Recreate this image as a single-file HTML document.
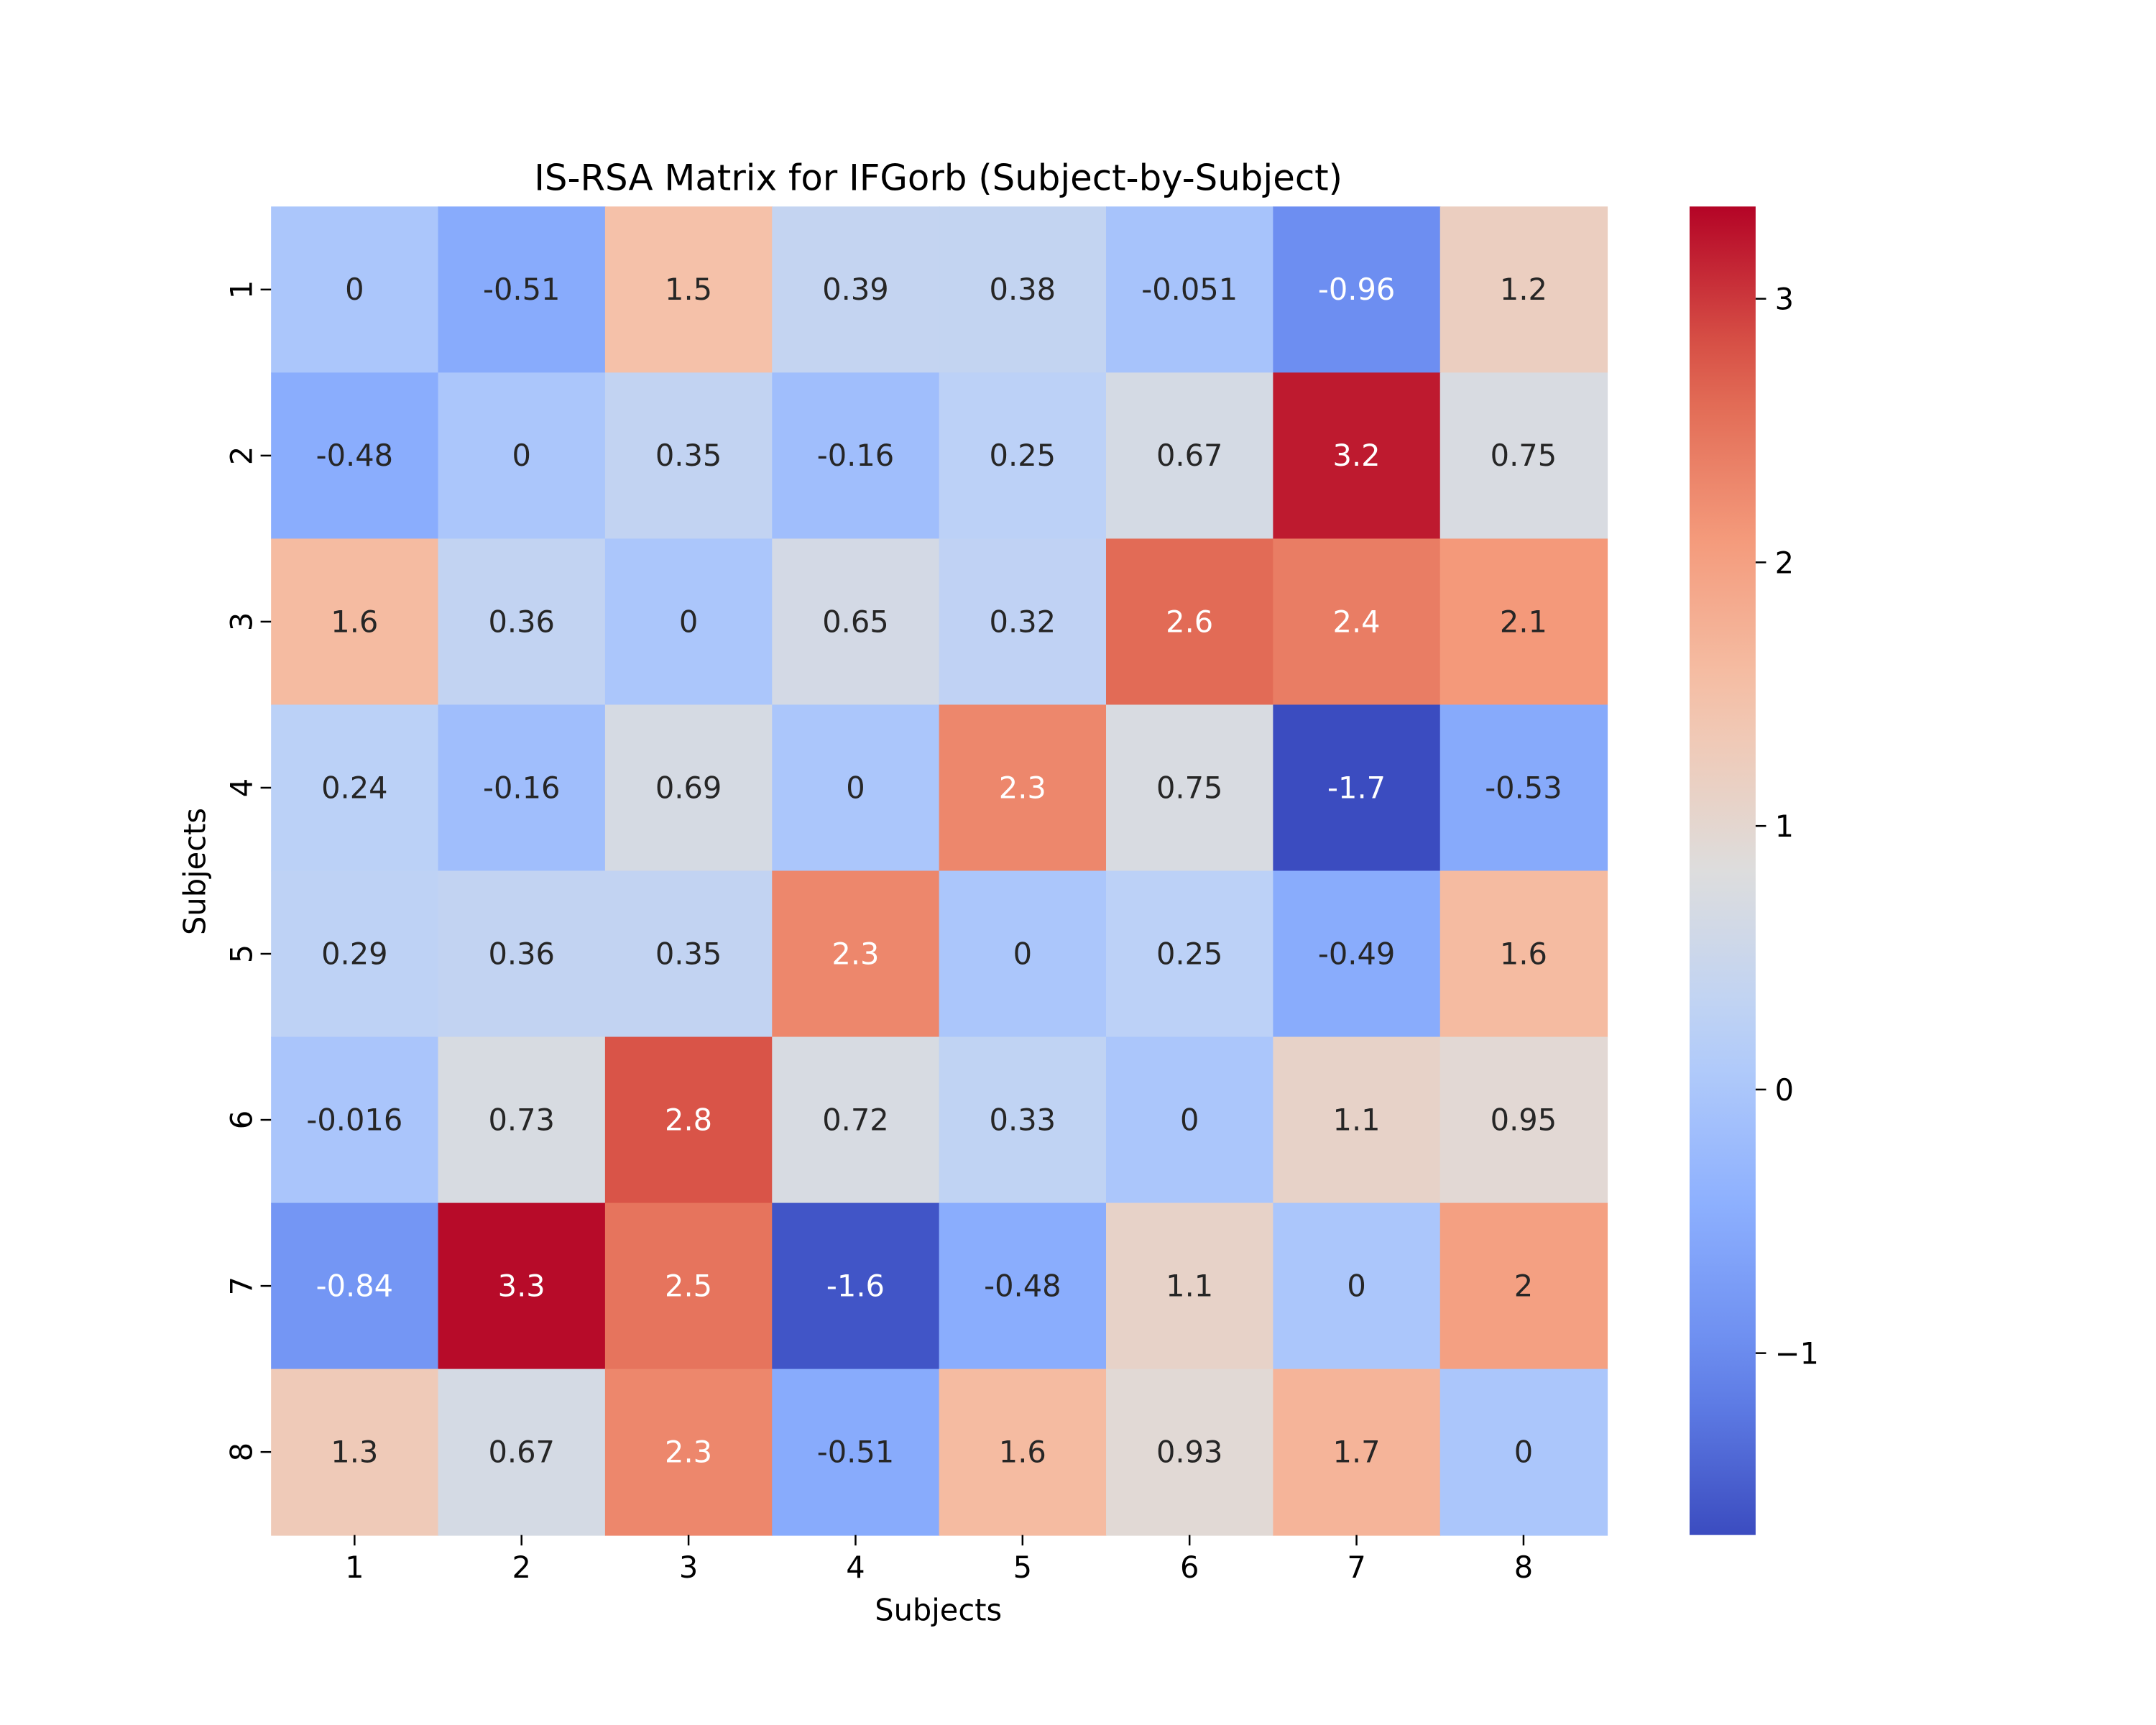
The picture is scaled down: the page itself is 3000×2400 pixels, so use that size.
<!DOCTYPE html>
<html><head><meta charset="utf-8"><style>
html,body{margin:0;padding:0;background:#fff;}
svg{display:block;font-family:"DejaVu Sans","Liberation Sans",sans-serif;}
</style></head><body>
<svg id="chart" width="3000" height="2400" viewBox="0 0 1567 1253" preserveAspectRatio="none" xmlns="http://www.w3.org/2000/svg">
<rect width="1567" height="1253" fill="#fff"/>
<text x="682" y="138" font-size="26" text-anchor="middle" fill="#000">IS-RSA Matrix for IFGorb (Subject-by-Subject)</text>
<text x="682" y="1177" font-size="21.7" text-anchor="middle" fill="#000">Subjects</text>
<text x="149" y="633" font-size="21.7" text-anchor="middle" fill="#000" transform="rotate(-90 149 633)">Subjects</text>
<g id="cells"></g>
<g id="ticks"></g>
<defs><linearGradient id="cbgrad" x1="0" y1="1" x2="0" y2="0"></linearGradient></defs>
<rect x="1228" y="150" width="48" height="965" fill="url(#cbgrad)"/>
<g id="cbticks"></g>
</svg>
<script>
const labels = ["1","2","3","4","5","6","7","8"];
const row1 = [0,-0.51,1.5,0.39,0.38,-0.051,-0.96,1.2];
const row2 = [-0.48,0,0.35,-0.16,0.25,0.67,3.2,0.75];
const row3 = [1.6,0.36,0,0.65,0.32,2.6,2.4,2.1];
const row4 = [0.24,-0.16,0.69,0,2.3,0.75,-1.7,-0.53];
const row5 = [0.29,0.36,0.35,2.3,0,0.25,-0.49,1.6];
const row6 = [-0.016,0.73,2.8,0.72,0.33,0,1.1,0.95];
const row7 = [-0.84,3.3,2.5,-1.6,-0.48,1.1,0,2];
const row8 = [1.3,0.67,2.3,-0.51,1.6,0.93,1.7,0];
const matrix = [row1,row2,row3,row4,row5,row6,row7,row8];
const cbTicks = [-1,0,1,2,3];
const vmin = -1.69, vmax = 3.35;

const NS = "http://www.w3.org/2000/svg";
const X0 = 197, X1 = 1168, Y0 = 150, Y1 = 1115;
const n = labels.length;
const cw = (X1 - X0) / n, ch = (Y1 - Y0) / n;
const xPos = i => X0 + i * cw;
const yPos = j => Y0 + j * ch;
const cbY = v => Y1 - (v - vmin) / (vmax - vmin) * (Y1 - Y0);

const stops = [[0,[59,76,192]],[0.125,[103,136,238]],[0.25,[141,176,254]],[0.375,[185,208,249]],[0.5,[221,221,221]],[0.625,[245,196,172]],[0.75,[244,154,123]],[0.875,[222,96,77]],[1,[180,4,38]]];
function cmap(t){
  t = Math.max(0, Math.min(1, t));
  for (let k = 0; k < stops.length - 1; k++){
    const [a, ca] = stops[k], [b, cb] = stops[k+1];
    if (t <= b){
      const f = (t - a) / (b - a);
      return ca.map((c, i) => Math.round(c + (cb[i] - c) * f));
    }
  }
  return stops[stops.length-1][1];
}
function lum(c){
  const l = c.map(v => { v /= 255; return v <= 0.03928 ? v / 12.92 : Math.pow((v + 0.055) / 1.055, 2.4); });
  return 0.2126*l[0] + 0.7152*l[1] + 0.0722*l[2];
}
function mk(tag, attrs, parent){
  const e = document.createElementNS(NS, tag);
  for (const k in attrs) e.setAttribute(k, attrs[k]);
  parent.appendChild(e);
  return e;
}
const cells = document.getElementById("cells");
matrix.forEach((row, j) => {
  row.forEach((v, i) => {
    const c = cmap((v - vmin) / (vmax - vmin));
    const r = mk("rect", {x: xPos(i), y: yPos(j), width: cw + 0.5, height: ch + 0.5, fill: `rgb(${c.join(",")})`}, cells);
    
    
    const t = mk("text", {x: xPos(i) + cw/2, y: yPos(j) + ch/2 + 7.5, "font-size": 21.7, "text-anchor": "middle", fill: lum(c) > 0.408 ? "#262626" : "#ffffff"}, cells);
    
    
    t.textContent = String(v);
  });
});
const ticks = document.getElementById("ticks");
labels.forEach((lab, i) => {
  const cx = xPos(i) + cw/2;
  mk("line", {x1: cx, x2: cx, y1: Y1, y2: Y1 + 7.6, stroke: "#000", "stroke-width": 1.3}, ticks);
  const tx = mk("text", {x: cx, y: Y1 + 31, "font-size": 21.7, "text-anchor": "middle", fill: "#000"}, ticks);
  
  
  tx.textContent = lab;
  const cy = yPos(i) + ch/2;
  mk("line", {x1: X0 - 7.6, x2: X0, y1: cy, y2: cy, stroke: "#000", "stroke-width": 1.3}, ticks);
  const ty = mk("text", {x: X0 - 14, y: cy, "font-size": 21.7, "text-anchor": "middle", fill: "#000", transform: `rotate(-90 ${X0-14} ${cy})`}, ticks);
  
  
  ty.textContent = lab;
});
const grad = document.getElementById("cbgrad");
for (let k = 0; k <= 20; k++){
  const c = cmap(k/20);
  mk("stop", {offset: (k*5) + "%", "stop-color": `rgb(${c.join(",")})`}, grad);
}
const cbt = document.getElementById("cbticks");
cbTicks.forEach(v => {
  const y = cbY(v);
  mk("line", {x1: 1276, x2: 1283.6, y1: y, y2: y, stroke: "#000", "stroke-width": 1.3}, cbt);
  const t = mk("text", {x: 1290, y: y + 7.8, "font-size": 21.7, fill: "#000"}, cbt);
  
  
  t.textContent = v < 0 ? "\u2212" + Math.abs(v) : String(v);
});
</script>
</body></html>
